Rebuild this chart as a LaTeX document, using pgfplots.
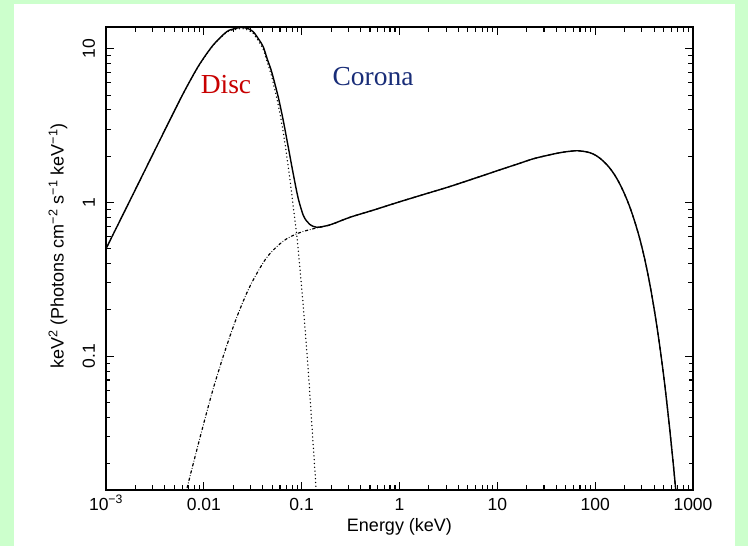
\documentclass[border=0pt]{standalone}
\usepackage{fontspec}
\setmainfont{Liberation Sans}
\newfontfamily\seriffont{Liberation Serif}
\usepackage{pgfplots}
\pgfplotsset{compat=1.18}
\definecolor{bggreen}{RGB}{204,255,204}
\definecolor{discred}{RGB}{200,0,0}
\definecolor{coronablue}{RGB}{25,45,120}

\begin{document}
\begin{tikzpicture}
\fill[bggreen] (0pt,0pt) rectangle (748pt,546pt);
\fill[white] (14pt,0pt) rectangle (735pt,542pt);
\path[use as bounding box] (0pt,0pt) rectangle (748pt,546pt);
\begin{axis}[at={(106pt,56pt)}, anchor=south west, scale only axis,
  width=587pt, height=463pt,
  xmode=log, ymode=log, xmin=1e-3, xmax=1e3, ymin=0.01347, ymax=13.86,
  xtick={1e-3,1e-2,1e-1,1,10,100,1000},
  xticklabels={10\textsuperscript{−3},0.01,0.1,1,10,100,1000},
  ytick={0.1,1,10}, yticklabels={0.1,1,10},
  xticklabel style={font=\fontsize{17.5}{20}\selectfont, anchor=base, inner sep=0pt, yshift=-20pt},
  yticklabel style={font=\fontsize{17.5}{20}\selectfont, xshift=-11pt, rotate=90, anchor=base, inner sep=0pt},
  xtick align=inside, ytick align=inside,
  major tick length=8pt, minor tick length=5pt,
  tick style={black, line width=1.1pt},
  axis line style={line width=1.3pt},
  xlabel={Energy (keV)},
  ylabel={keV\textsuperscript{2} (Photons cm\textsuperscript{−2} s\textsuperscript{−1} keV\textsuperscript{−1})},
  label style={font=\fontsize{18}{20}\selectfont},
  xlabel style={at={(axis description cs:0.5,0)}, anchor=center, yshift=-37pt, inner sep=0pt},
  ylabel style={at={(axis description cs:-0.0818,0.527)}, anchor=center, inner sep=0pt},
  clip=true,
]
% tick marks on all four sides (major: decades, minor: 2..9)
\pgfplotsinvokeforeach{1e-3,1e-2,1e-1,1,10,100,1000}{
  \draw[black, line width=1.1pt] (axis cs:#1,0.01347) -- ++(0pt,8pt);
  \draw[black, line width=1.1pt] (axis cs:#1,13.86) -- ++(0pt,-8pt);
}
\pgfplotsinvokeforeach{2e-3,3e-3,4e-3,5e-3,6e-3,7e-3,8e-3,9e-3,
    2e-2,3e-2,4e-2,5e-2,6e-2,7e-2,8e-2,9e-2,
    0.2,0.3,0.4,0.5,0.6,0.7,0.8,0.9,2,3,4,5,6,7,8,9,
    20,30,40,50,60,70,80,90,200,300,400,500,600,700,800,900}{
  \draw[black, line width=1.1pt] (axis cs:#1,0.01347) -- ++(0pt,4.5pt);
  \draw[black, line width=1.1pt] (axis cs:#1,13.86) -- ++(0pt,-4.5pt);
}
\pgfplotsinvokeforeach{0.1,1,10}{
  \draw[black, line width=1.1pt] (axis cs:1e-3,#1) -- ++(8pt,0pt);
  \draw[black, line width=1.1pt] (axis cs:1e3,#1) -- ++(-8pt,0pt);
}
\pgfplotsinvokeforeach{0.02,0.03,0.04,0.05,0.06,0.07,0.08,0.09,
    0.2,0.3,0.4,0.5,0.6,0.7,0.8,0.9,2,3,4,5,6,7,8,9}{
  \draw[black, line width=1.1pt] (axis cs:1e-3,#1) -- ++(4.5pt,0pt);
  \draw[black, line width=1.1pt] (axis cs:1e3,#1) -- ++(-4.5pt,0pt);
}
% Corona (dash-dot)
\addplot[black, line width=1.2pt, line cap=round, dash pattern=on 2.5pt off 2.5pt on 0pt off 2.5pt, smooth] coordinates {
(0.0062,0.0112) (0.00693,0.0149) (0.00809,0.0219) (0.00986,0.0355) (0.01247,0.0614)
(0.01644,0.108) (0.02163,0.178) (0.0296,0.285) (0.0438,0.437) (0.0647,0.560)
(0.092,0.631) (0.1365,0.679) (0.194,0.713) (0.31,0.80) (0.55,0.895) (1.0,1.01)
(1.778,1.129) (3.27,1.27) (5.62,1.423) (10.6,1.63) (15.85,1.774) (23.2,1.923)
(31.6,2.018) (39.8,2.084) (50.1,2.138) (63.1,2.17) (70.8,2.164) (79.4,2.142)
(89.1,2.104) (100,2.036) (112.2,1.938) (125.9,1.814) (141.3,1.672) (158.5,1.508)
(177.8,1.327) (199.5,1.137) (223.9,0.950) (251.2,0.767) (281.8,0.600)
(316.2,0.447) (354.8,0.315) (398.1,0.2084) (446.7,0.1294) (501.2,0.0748)
(562.3,0.0396) (631,0.01943) (707.9,0.00885)
};
% Disc (dotted)
\addplot[black, line width=1.5pt, line cap=round, dash pattern=on 0pt off 3.8pt, smooth] coordinates {
(0.001,0.50) (0.00178,1.047) (0.00316,2.19) (0.00562,4.57) (0.00716,6.10)
(0.00912,7.97) (0.0125,10.54) (0.0171,12.79) (0.0205,13.3) (0.0243,13.56)
(0.0285,13.2) (0.032,12.58) (0.0362,11.2) (0.0405,9.89) (0.0447,8.1)
(0.0493,6.61) (0.0575,4.35) (0.0647,2.88) (0.0728,1.73) (0.0818,0.96)
(0.0889,0.62) (0.092,0.50) (0.0998,0.283) (0.108,0.156) (0.1167,0.0813)
(0.1262,0.0385) (0.1365,0.0182) (0.1396,0.0145) (0.143,0.0115)
};
% Total (solid)
\addplot[black, line width=1.4pt, smooth] coordinates {
(0.001,0.50) (0.00178,1.047) (0.00316,2.19) (0.00562,4.57) (0.00716,6.12)
(0.00912,8.0) (0.0125,10.6) (0.0171,12.9) (0.0205,13.5) (0.0243,13.8)
(0.0285,13.5) (0.032,12.9) (0.0362,11.6) (0.0405,10.3) (0.0447,8.5)
(0.0493,7.1) (0.0575,4.88) (0.0647,3.44) (0.0728,2.31) (0.0818,1.55)
(0.092,1.07) (0.1035,0.83) (0.112,0.76) (0.121,0.72) (0.142,0.69)
(0.194,0.715) (0.31,0.80) (0.55,0.895) (1.0,1.01)
(1.778,1.129) (3.27,1.27) (5.62,1.423) (10.6,1.63) (15.85,1.774) (23.2,1.923)
(31.6,2.018) (39.8,2.084) (50.1,2.138) (63.1,2.17) (70.8,2.164) (79.4,2.142)
(89.1,2.104) (100,2.036) (112.2,1.938) (125.9,1.814) (141.3,1.672) (158.5,1.508)
(177.8,1.327) (199.5,1.137) (223.9,0.950) (251.2,0.767) (281.8,0.600)
(316.2,0.447) (354.8,0.315) (398.1,0.2084) (446.7,0.1294) (501.2,0.0748)
(562.3,0.0396) (631,0.01943) (707.9,0.00885)
};
\node[font=\seriffont\fontsize{27.5}{30}\selectfont, text=discred, inner sep=0pt] at (rel axis cs:0.2044,0.8747) {Disc};
\node[font=\seriffont\fontsize{27.5}{30}\selectfont, text=coronablue, inner sep=0pt] at (rel axis cs:0.4549,0.892) {Corona};
\end{axis}
\end{tikzpicture}
\end{document}
